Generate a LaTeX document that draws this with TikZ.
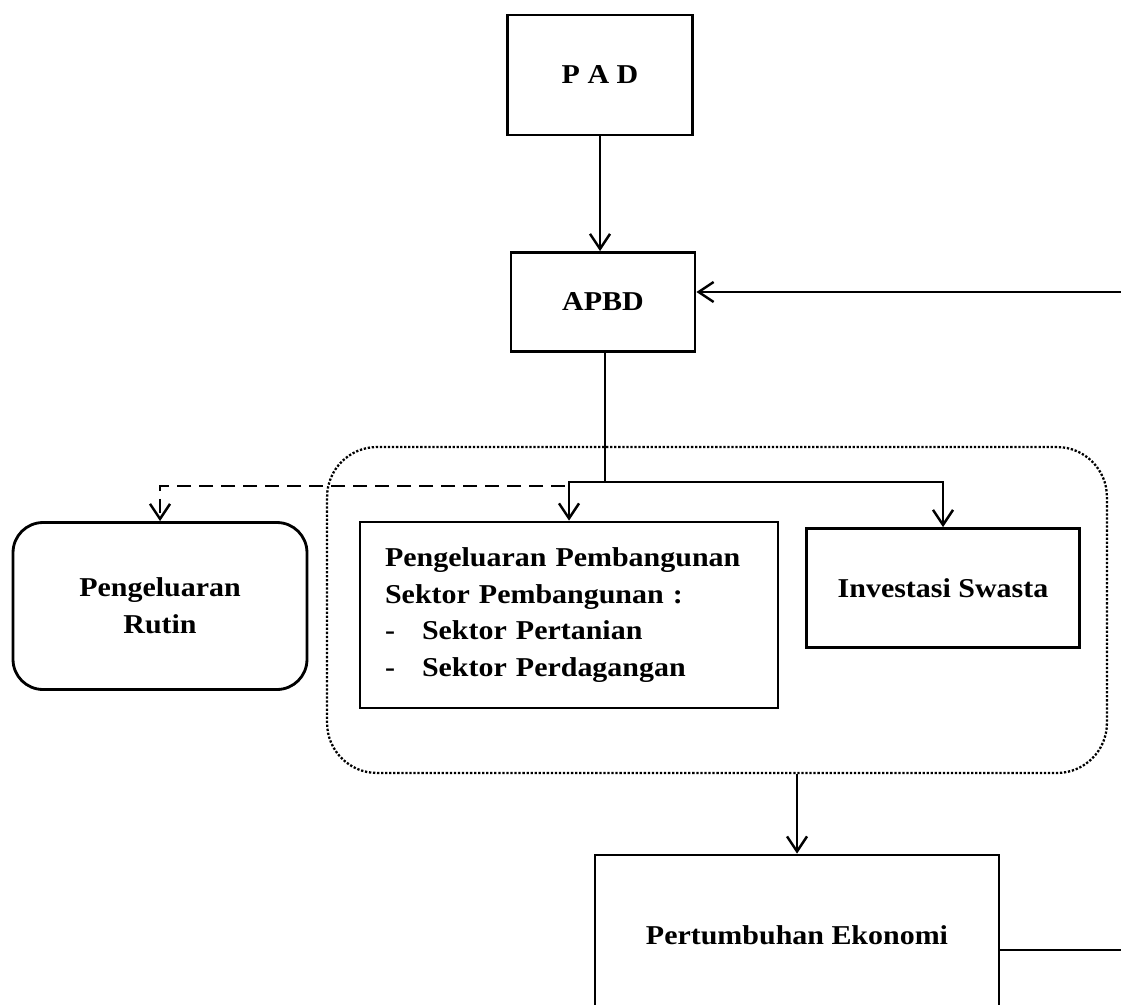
\documentclass[tikz,border=0pt]{standalone}
\usepackage{fontspec}
\setmainfont{Liberation Serif}[FakeStretch=1.1]
\usetikzlibrary{shapes,arrows.meta}

\begin{document}
\begin{tikzpicture}[x=0.02cm, y=-0.02cm,
    box/.style={rectangle, draw, line width=1.6pt, align=center,
        font=\fontsize{15.5}{21}\selectfont\bfseries},
    link/.style={line width=1.4pt},
    >={Straight Barb[length=3mm, width=4mm]}]
    \useasboundingbox (0,0) rectangle (1121,1004);

    \node (grp) [draw, densely dotted, line width=1.3pt, rounded corners=1cm, minimum width=15.6cm, minimum height=6.52cm] at (717,610) {};

    \node (pad) [box, minimum width=3.7cm, minimum height=2.4cm] at (600,75) {P A D};
    \node (apbd) [box, minimum width=3.68cm, minimum height=1.98cm] at (603,302) {APBD};
    \node (rutin) [box, rounded corners=0.6cm, minimum width=5.88cm, minimum height=3.34cm] at (160,606) {Pengeluaran\\Rutin};
    \node (pp) [box, align=left, text width=7.36cm, inner xsep=0.5cm, minimum height=3.72cm] at (569,615)
        {Pengeluaran Pembangunan\\Sektor Pembangunan :\\\makebox[0.74cm][l]{-}Sektor Pertanian\\\makebox[0.74cm][l]{-}Sektor Perdagangan};
    \node (inv) [box, minimum width=5.46cm, minimum height=2.38cm] at (943,588) {Investasi Swasta};
    \node (pe) [box, minimum width=8.08cm, minimum height=3.2cm] at (797,935) {Pertumbuhan Ekonomi};

    \coordinate (split) at (605,482);
    \coordinate (dsh) at (565,486);
    \coordinate (fbin) at (1121,292);
    \coordinate (fbout) at (1121,950);

    \draw [link, ->] (pad.south) -- (pad.south |- apbd.north);
    \draw [link] (apbd.south -| split) -- (split);
    \draw [link, ->] (split) -| (pp.north);
    \draw [link, ->] (split) -| (inv.north);
    \draw [link, dashed, dash pattern=on 0.28cm off 0.16cm, ->] (dsh) -| (rutin.north);
    \draw [link, ->] (grp.south -| pe.north) -- (pe.north);
    \draw [link] (pe.east |- fbout) -- (fbout);
    \draw [link, ->] (fbin) -- (fbin -| apbd.east);
\end{tikzpicture}
\end{document}
